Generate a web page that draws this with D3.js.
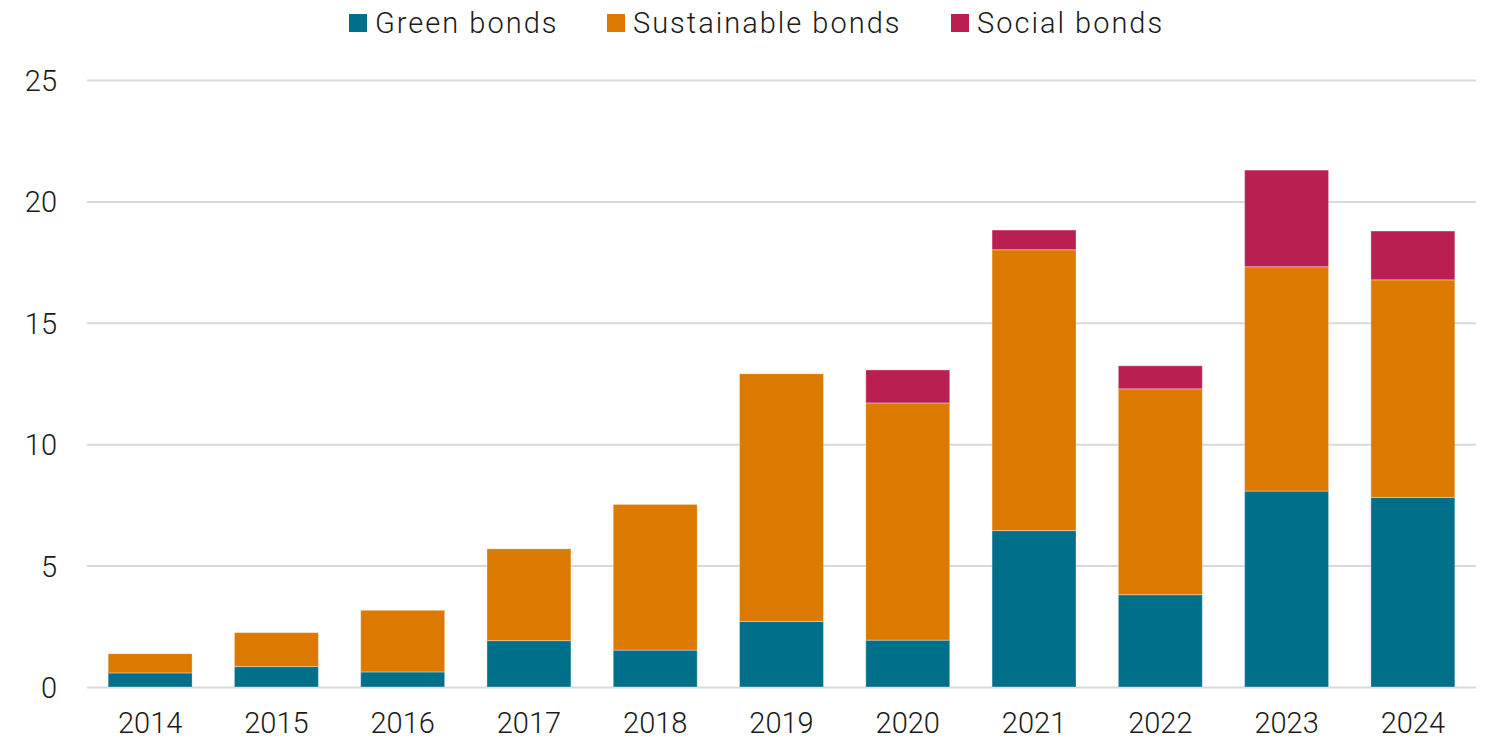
<!DOCTYPE html>
<html>
<head>
<meta charset="utf-8">
<script src="https://cdn.jsdelivr.net/npm/d3@7"></script>
<style>
  html, body { margin: 0; padding: 0; background: #fff; }
  svg { display: block; }
  text { font-family: Roboto, "Liberation Sans", sans-serif; font-weight: 300; fill: #1a1a1a; }
</style>
</head>
<body>
<svg id="chart" width="1488" height="741"></svg>
<script>
const years = ["2014","2015","2016","2017","2018","2019","2020","2021","2022","2023","2024"];
const greenBonds = [0.58, 0.84, 0.62, 1.91, 1.52, 2.70, 1.93, 6.44, 3.80, 8.07, 7.81];
const sustainableBonds = [0.79, 1.40, 2.54, 3.78, 6.00, 10.20, 9.77, 11.57, 8.48, 9.24, 8.96];
const socialBonds = [0, 0, 0, 0, 0, 0, 1.36, 0.81, 0.95, 3.98, 2.01];
const seriesNames = ["Green bonds", "Sustainable bonds", "Social bonds"];
const seriesColors = ["#006F89", "#DB7900", "#BA1F51"];
const yTicks = [0, 5, 10, 15, 20, 25];

const svg = d3.select("#chart");
const margin = { left: 87, right: 12, top: 80, bottom: 54 };
const W = 1488, H = 741;

const x = d3.scaleBand().domain(years).range([margin.left, W - margin.right])
  .paddingInner(0.335).paddingOuter(0.1675);
const y = d3.scaleLinear().domain([0, 25]).range([H - margin.bottom, margin.top]);

const rows = years.map((yr, i) => ({
  year: yr,
  "Green bonds": greenBonds[i],
  "Sustainable bonds": sustainableBonds[i],
  "Social bonds": socialBonds[i]
}));
const stacked = d3.stack().keys(seriesNames)(rows);
const color = d3.scaleOrdinal().domain(seriesNames).range(seriesColors);

// gridlines
const yAxis = d3.axisLeft(y).tickValues(yTicks).tickSize(-(W - margin.right - margin.left)).tickFormat(d3.format("d"));
const gy = svg.append("g").attr("transform", `translate(${margin.left},0)`).call(yAxis);
gy.select(".domain").remove();
gy.selectAll(".tick line").attr("stroke", "#d9d9d9").attr("stroke-width", 2);
gy.selectAll(".tick text").attr("x", -30).attr("dy", "0.36em")
  .style("font-size", "29px").style("font-family", "Roboto, sans-serif").style("font-weight", 300).attr("fill", "#1a1a1a");

// bars
svg.append("g").selectAll("g").data(stacked).join("g")
  .attr("fill", d => color(d.key))
  .selectAll("rect").data(d => d).join("rect")
  .attr("x", d => x(d.data.year))
  .attr("width", x.bandwidth())
  .attr("y", d => y(d[1]))
  .attr("height", d => Math.max(0, y(d[0]) - y(d[1])))
  .attr("stroke", "rgba(255,255,255,0.35)")
  .attr("stroke-width", 1);

// x axis
const xAxis = d3.axisBottom(x).tickSize(0);
const gx = svg.append("g").attr("transform", `translate(0,${H - margin.bottom})`).call(xAxis);
gx.select(".domain").remove();
gx.selectAll(".tick text").attr("y", 25).attr("dy", "0.71em")
  .style("font-size", "29px").style("font-family", "Roboto, sans-serif").style("font-weight", 300).attr("fill", "#1a1a1a");

// legend
const legendItems = [
  { name: seriesNames[0], sx: 349 },
  { name: seriesNames[1], sx: 607 },
  { name: seriesNames[2], sx: 951 }
];
const lg = svg.append("g");
legendItems.forEach((it, i) => {
  lg.append("rect").attr("x", it.sx).attr("y", 14).attr("width", 18).attr("height", 18).attr("fill", seriesColors[i]);
  lg.append("text").attr("x", it.sx + 26).attr("y", 33).text(it.name)
    .style("font-size", "29px").style("letter-spacing", "2px");
});
</script>
</body>
</html>
